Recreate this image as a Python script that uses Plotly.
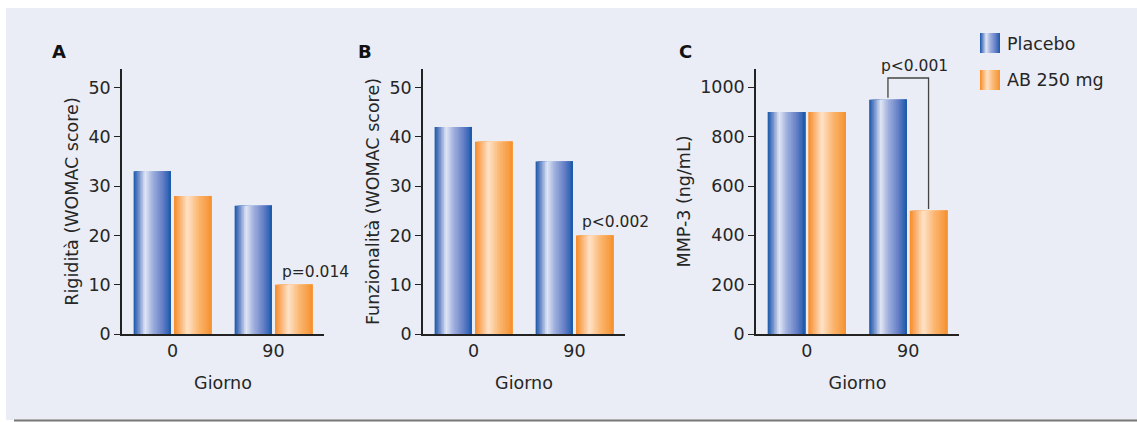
import plotly.graph_objects as go

# ---------------- data ----------------
days = ["0", "90"]
placebo_A = [33, 26]
ab_A = [28, 10]
placebo_B = [42, 35]
ab_B = [39, 20]
placebo_C = [900, 950]
ab_C = [900, 500]
series_names = ["Placebo", "AB 250 mg"]
panel_letters = ["A", "B", "C"]
y_titles = ["Rigidità (WOMAC score)", "Funzionalità (WOMAC score)", "MMP-3 (ng/mL)"]
x_title = "Giorno"
y_ticks_AB = [0, 10, 20, 30, 40, 50]
y_ticks_C = [0, 200, 400, 600, 800, 1000]
p_labels = ["p=0.014", "p<0.002", "p<0.001"]

# ---------------- styling ----------------
W_PX, H_PX = 1137, 422
FONT = "DejaVu Sans"
TXT = "#262626"
PANEL_BG = "#EAEDF5"
FS = 17.5
FS_P = 15.5

blue_stops = [(0.0, (22, 86, 168)), (0.13, (108, 138, 200)), (0.31, (224, 230, 245)),
              (0.50, (162, 178, 222)), (0.78, (100, 126, 198)), (1.0, (24, 88, 170))]
orange_stops = [(0.0, (245, 138, 38)), (0.36, (255, 226, 200)), (0.66, (250, 182, 112)),
                (1.0, (246, 146, 48))]


def grad(stops, t):
    for (t0, c0), (t1, c1) in zip(stops[:-1], stops[1:]):
        if t <= t1:
            f = (t - t0) / (t1 - t0) if t1 > t0 else 0
            c = [round(a + (b - a) * f) for a, b in zip(c0, c1)]
            return "rgb(%d,%d,%d)" % tuple(c)
    return "rgb(%d,%d,%d)" % stops[-1][1]


def px_x(p):
    return p / W_PX


def px_y(p):
    return 1 - p / H_PX


N = 24
BAR_W = 0.37
GAP = 0.03
x_pos = list(range(len(days)))

fig = go.Figure()

panels = [
    (placebo_A, ab_A, "x", "y"),
    (placebo_B, ab_B, "x2", "y2"),
    (placebo_C, ab_C, "x3", "y3"),
]

for plc, ab, xa, ya in panels:
    for vals, stops, base in ((plc, blue_stops, -BAR_W - GAP / 2), (ab, orange_stops, GAP / 2)):
        for i in range(N):
            t = (i + 0.5) / N
            fig.add_trace(go.Bar(
                x=x_pos, y=vals, xaxis=xa, yaxis=ya,
                offset=base + BAR_W * i / N, width=BAR_W * (1 - i / N),
                marker=dict(color=grad(stops, t), line=dict(width=0)),
                showlegend=False, hoverinfo="skip"))

# significance bracket on panel C
pl_center = x_pos[1] - BAR_W / 2 - GAP / 2
ab_center = x_pos[1] + BAR_W / 2 + GAP / 2
top_br = 1038
fig.add_trace(go.Scatter(
    x=[pl_center, pl_center, ab_center, ab_center],
    y=[placebo_C[1] + 8, top_br, top_br, ab_C[1] + 7],
    xaxis="x3", yaxis="y3", mode="lines",
    line=dict(color="#444", width=1.3), showlegend=False, hoverinfo="skip",
    cliponaxis=False))

# ---------------- axes ----------------
domains_x = [(122, 324), (423, 625), (756, 959)]
y_dom = [px_y(334), px_y(69)]
ranges_y = [[0, 53.75], [0, 53.75], [0, 1074.5]]
ticks_y = [y_ticks_AB, y_ticks_AB, y_ticks_C]

layout = dict(
    width=W_PX, height=H_PX,
    margin=dict(l=0, r=0, t=0, b=0),
    paper_bgcolor="white", plot_bgcolor="rgba(0,0,0,0)",
    barmode="overlay", showlegend=False,
    font=dict(family=FONT, size=FS, color=TXT),
)

for k in range(3):
    sx = "" if k == 0 else str(k + 1)
    layout["xaxis" + sx] = dict(
        domain=[px_x(domains_x[k][0]), px_x(domains_x[k][1])],
        anchor="y" + sx, range=[-0.5, 1.5],
        tickmode="array", tickvals=x_pos, ticktext=days,
        showline=True, linecolor="#222", linewidth=1.5,
        ticks="", showgrid=False, zeroline=False,
        tickfont=dict(family=FONT, size=FS, color=TXT),
        title=dict(text=x_title, font=dict(family=FONT, size=FS, color=TXT), standoff=17),
        fixedrange=True, automargin=False,
    )
    layout["yaxis" + sx] = dict(
        domain=y_dom, anchor="x" + sx, range=ranges_y[k],
        tickmode="array", tickvals=ticks_y[k],
        showline=True, linecolor="#222", linewidth=1.5,
        ticks="outside", ticklen=6, tickcolor="#222", tickwidth=1.2,
        showgrid=False, zeroline=False,
        tickfont=dict(family=FONT, size=FS, color=TXT),
        title=dict(text=y_titles[k], font=dict(family=FONT, size=FS, color=TXT), standoff=5),
        fixedrange=True, automargin=False,
    )

fig.update_layout(**layout)

# ---------------- background panel ----------------
shapes = [
    dict(type="rect", xref="paper", yref="paper", x0=px_x(6), x1=1, y0=px_y(420), y1=px_y(8),
         fillcolor=PANEL_BG, line=dict(width=0), layer="below"),
    dict(type="line", xref="paper", yref="paper", x0=px_x(14), x1=1, y0=px_y(420.5), y1=px_y(420.5),
         line=dict(color="#777", width=2), layer="above"),
]

# legend swatches (gradient)
leg_x0, leg_x1 = 980, 1000
for (y0, y1), stops in (((33, 53), blue_stops), ((70, 90), orange_stops)):
    M = 20
    for i in range(M):
        t = (i + 0.5) / M
        xa = leg_x0 + (leg_x1 - leg_x0) * i / M
        shapes.append(dict(type="rect", xref="paper", yref="paper",
                           x0=px_x(xa), x1=px_x(leg_x1), y0=px_y(y1), y1=px_y(y0),
                           fillcolor=grad(stops, t), line=dict(width=0), layer="above"))
fig.update_layout(shapes=shapes)

# ---------------- annotations ----------------
annots = []
for name, yc in zip(series_names, (44, 80)):
    annots.append(dict(text=name, xref="paper", yref="paper", x=px_x(1005), y=px_y(yc),
                       xanchor="left", yanchor="middle", showarrow=False,
                       font=dict(family=FONT, size=FS, color=TXT)))
for letter, xl in zip(panel_letters, (50, 356, 677)):
    annots.append(dict(text="<b>%s</b>" % letter, xref="paper", yref="paper", x=px_x(xl), y=px_y(52),
                       xanchor="left", yanchor="middle", showarrow=False,
                       font=dict(family=FONT, size=18, color="#111")))
annots.append(dict(text=p_labels[0], xref="x", yref="y", x=1.416, y=12.6, xanchor="center",
                   yanchor="middle", showarrow=False, font=dict(family=FONT, size=FS_P, color=TXT)))
annots.append(dict(text=p_labels[1], xref="x2", yref="y2", x=1.406, y=22.7, xanchor="center",
                   yanchor="middle", showarrow=False, font=dict(family=FONT, size=FS_P, color=TXT)))
annots.append(dict(text=p_labels[2], xref="x3", yref="paper", x=1.057, y=px_y(66), xanchor="center",
                   yanchor="middle", showarrow=False, font=dict(family=FONT, size=FS_P, color=TXT)))
fig.update_layout(annotations=annots)

fig.write_html("out.html", config={"displayModeBar": False},
               post_script="document.body.style.margin='0';")
